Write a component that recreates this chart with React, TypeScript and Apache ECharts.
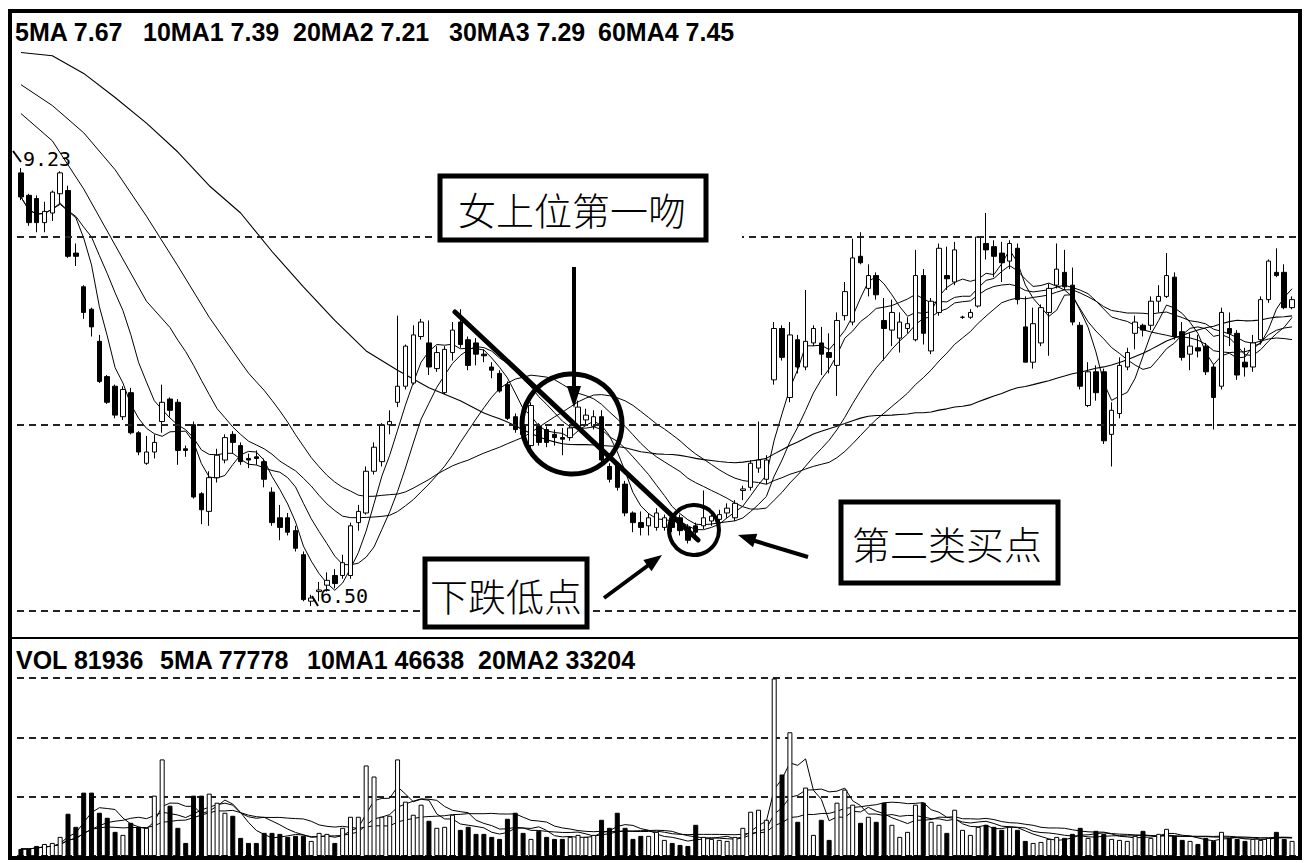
import React, { useEffect, useRef } from "react";
import * as echarts from "echarts";

// [open, close, low, high]
const ohlc: number[][] = [
  [9.20, 9.05, 9.03, 9.23], [9.06, 8.89, 8.87, 9.07], [9.04, 8.89, 8.83, 9.06], [8.89, 8.96, 8.83, 9.02],
  [8.95, 9.08, 8.90, 9.09], [9.07, 9.20, 9.01, 9.21], [9.09, 8.68, 8.67, 9.12], [8.70, 8.68, 8.62, 8.76],
  [8.49, 8.33, 8.29, 8.50], [8.35, 8.24, 8.18, 8.36], [8.15, 7.90, 7.89, 8.19], [7.93, 7.77, 7.76, 7.94],
  [7.87, 7.69, 7.67, 7.88], [7.68, 7.85, 7.66, 7.87], [7.83, 7.58, 7.57, 7.86], [7.58, 7.46, 7.44, 7.59],
  [7.39, 7.46, 7.38, 7.56], [7.46, 7.52, 7.42, 7.57], [7.65, 7.77, 7.58, 7.88], [7.79, 7.72, 7.68, 7.80],
  [7.77, 7.47, 7.38, 7.79], [7.48, 7.47, 7.43, 7.50], [7.63, 7.18, 7.17, 7.65], [7.20, 7.10, 7.01, 7.21],
  [7.09, 7.30, 7.00, 7.34], [7.30, 7.44, 7.27, 7.48], [7.41, 7.55, 7.39, 7.57], [7.57, 7.52, 7.45, 7.59],
  [7.50, 7.40, 7.38, 7.52], [7.42, 7.41, 7.36, 7.45], [7.43, 7.42, 7.38, 7.47], [7.40, 7.29, 7.24, 7.42],
  [7.21, 7.02, 7.00, 7.24], [7.05, 6.99, 6.91, 7.13], [7.05, 6.96, 6.94, 7.08], [6.97, 6.86, 6.84, 7.00],
  [6.82, 6.54, 6.53, 6.84], [6.53, 6.55, 6.50, 6.57], [6.59, 6.60, 6.53, 6.65], [6.63, 6.66, 6.59, 6.71],
  [6.69, 6.64, 6.61, 6.73], [6.69, 6.77, 6.67, 6.82], [6.69, 7.00, 6.67, 7.02], [7.02, 7.09, 6.97, 7.13],
  [7.08, 7.34, 7.07, 7.37], [7.34, 7.49, 7.32, 7.52], [7.40, 7.63, 7.37, 7.64], [7.63, 7.65, 7.57, 7.72],
  [7.77, 7.87, 7.74, 8.31], [7.87, 8.12, 7.85, 8.13], [7.89, 8.19, 7.88, 8.25], [8.18, 8.27, 8.16, 8.29],
  [8.14, 7.99, 7.94, 8.28], [7.98, 8.08, 7.96, 8.12], [7.83, 8.10, 7.82, 8.12], [8.08, 8.22, 8.03, 8.27],
  [8.27, 8.13, 8.11, 8.35], [8.16, 8.00, 7.97, 8.18], [8.14, 8.07, 8.00, 8.17], [8.07, 8.06, 8.02, 8.10],
  [7.99, 7.97, 7.92, 8.02], [7.95, 7.84, 7.83, 7.97], [7.88, 7.67, 7.66, 7.90], [7.68, 7.60, 7.58, 7.70],
  [7.63, 7.57, 7.54, 7.66], [7.50, 7.75, 7.48, 7.77], [7.62, 7.52, 7.50, 7.64], [7.60, 7.52, 7.49, 7.62],
  [7.57, 7.55, 7.50, 7.60], [7.55, 7.54, 7.44, 7.61], [7.55, 7.61, 7.53, 7.63], [7.62, 7.74, 7.60, 7.78],
  [7.66, 7.69, 7.63, 7.73], [7.62, 7.68, 7.60, 7.72], [7.68, 7.41, 7.39, 7.72], [7.37, 7.29, 7.27, 7.39],
  [7.38, 7.24, 7.22, 7.40], [7.26, 7.08, 7.06, 7.28], [7.08, 7.02, 6.96, 7.09], [7.02, 6.99, 6.94, 7.09],
  [7.00, 7.05, 6.94, 7.08], [6.99, 7.08, 6.97, 7.11], [6.99, 7.05, 6.97, 7.07], [7.05, 6.99, 6.96, 7.07],
  [7.05, 6.97, 6.94, 7.07], [6.99, 6.91, 6.89, 7.01], [7.00, 6.96, 6.93, 7.02], [7.00, 7.05, 6.98, 7.22],
  [7.03, 7.06, 7.00, 7.08], [7.04, 7.07, 7.01, 7.10], [7.08, 7.11, 7.05, 7.14], [7.05, 7.14, 7.03, 7.16],
  [7.22, 7.23, 7.16, 7.25], [7.24, 7.39, 7.22, 7.41], [7.36, 7.41, 7.33, 7.65], [7.29, 7.41, 7.26, 7.44],
  [7.91, 8.23, 7.88, 8.27], [8.23, 8.05, 8.03, 8.25], [7.80, 8.19, 7.77, 8.27], [8.16, 7.99, 7.95, 8.19],
  [7.99, 8.15, 7.97, 8.47], [8.14, 8.23, 8.12, 8.25], [8.14, 8.07, 7.94, 8.24], [8.08, 8.05, 7.95, 8.20],
  [8.00, 8.28, 7.81, 8.33], [8.31, 8.46, 8.28, 8.52], [8.27, 8.67, 8.25, 8.79], [8.68, 8.64, 8.63, 8.83],
  [8.48, 8.56, 8.43, 8.63], [8.56, 8.44, 8.41, 8.58], [8.28, 8.23, 8.03, 8.42], [8.22, 8.33, 8.12, 8.41],
  [8.17, 8.27, 8.08, 8.33], [8.23, 8.26, 8.20, 8.30], [8.16, 8.56, 8.15, 8.72], [8.56, 8.20, 8.13, 8.60],
  [8.09, 8.40, 8.07, 8.42], [8.33, 8.73, 8.31, 8.76], [8.56, 8.54, 8.47, 8.74], [8.52, 8.72, 8.50, 8.77],
  [8.30, 8.30, 8.29, 8.31], [8.30, 8.33, 8.29, 8.35], [8.37, 8.80, 8.36, 8.80], [8.76, 8.72, 8.66, 8.95],
  [8.74, 8.68, 8.55, 8.78], [8.70, 8.64, 8.52, 8.77], [8.65, 8.76, 8.60, 8.78], [8.73, 8.41, 8.38, 8.76],
  [8.24, 8.02, 8.02, 8.43], [8.02, 8.26, 7.98, 8.36], [8.14, 8.36, 8.12, 8.38], [8.33, 8.48, 8.06, 8.51],
  [8.50, 8.60, 8.48, 8.76], [8.58, 8.49, 8.47, 8.72], [8.50, 8.27, 8.25, 8.61], [8.25, 7.87, 7.85, 8.27],
  [7.75, 7.96, 7.74, 8.02], [7.96, 7.83, 7.78, 8.00], [7.96, 7.53, 7.51, 7.98], [7.57, 7.72, 7.37, 7.77],
  [7.70, 8.00, 7.67, 8.05], [7.99, 8.08, 7.97, 8.11], [8.20, 8.27, 8.10, 8.31], [8.25, 8.22, 8.18, 8.26],
  [8.25, 8.40, 8.22, 8.43], [8.40, 8.43, 8.33, 8.50], [8.43, 8.56, 8.42, 8.70], [8.55, 8.18, 8.16, 8.58],
  [8.21, 8.05, 8.03, 8.27], [8.07, 8.12, 7.97, 8.20], [8.11, 8.09, 8.05, 8.19], [8.12, 7.96, 7.94, 8.14],
  [7.99, 7.80, 7.60, 8.01], [7.87, 8.33, 7.85, 8.36], [8.23, 8.20, 8.12, 8.33], [8.20, 7.94, 7.91, 8.22],
  [8.02, 7.99, 7.93, 8.11], [7.99, 8.14, 7.96, 8.19], [8.16, 8.41, 8.13, 8.43], [8.41, 8.65, 8.39, 8.66],
  [8.58, 8.56, 8.55, 8.73], [8.58, 8.36, 8.35, 8.63], [8.36, 8.41, 8.35, 8.43],
];

const volumes: number[] = [
  28500, 28500, 40700, 48800, 52900, 77300, 170900, 118000, 256400, 256400,
  175000, 154700, 97700, 85500, 134300, 118000, 114000, 244200, 390700, 203500,
  114000, 52900, 244200, 244200, 252300, 215700, 175000, 162800, 73300, 52900,
  52900, 93600, 93600, 89500, 77300, 81400, 81400, 61100, 93600, 89500,
  52900, 114000, 158700, 158700, 366300, 321500, 158700, 162800, 390700, 219800,
  166900, 207600, 142500, 114000, 118000, 166900, 105800, 118000, 89500, 89500,
  77300, 69200, 150600, 175000, 93600, 69200, 101800, 77300, 69200, 69200,
  77300, 85500, 77300, 85500, 146500, 114000, 175000, 114000, 69200, 81400,
  81400, 97700, 65100, 52900, 44800, 40700, 126200, 77300, 69200, 65100,
  61100, 77300, 114000, 179100, 187200, 146500, 718000, 329700, 500600, 138400,
  276800, 85500, 146500, 65100, 215700, 268600, 207600, 134300, 158700, 138400,
  215700, 126200, 77300, 97700, 207600, 215700, 138400, 126200, 93600, 187200,
  105800, 85500, 118000, 126200, 118000, 105800, 118000, 105800, 61100, 52900,
  57000, 69200, 77300, 73300, 89500, 114000, 73300, 101800, 89500, 69200,
  65100, 61100, 81400, 101800, 73300, 89500, 109900, 81400, 65100, 61100,
  48800, 73300, 61100, 97700, 73300, 69200, 61100, 69200, 65100, 73300,
  97700, 69200, 61100,
];

// long moving averages before enough bars are on screen
const ma20Lead: [number, number][] = [[0, 9.57], [4, 9.40], [8, 9.10], [12, 8.75], [16, 8.40]];
const ma30Lead: [number, number][] = [[0, 9.75], [4, 9.62], [8, 9.45], [12, 9.22], [16, 8.93], [20, 8.62], [24, 8.30], [28, 8.02]];
const ma60Lead: [number, number][] = [[0, 9.95], [4, 9.93], [8, 9.82], [12, 9.67], [16, 9.51], [20, 9.33], [24, 9.12], [28, 8.95], [32, 8.71], [36, 8.49], [40, 8.28], [44, 8.09], [48, 7.97], [52, 7.86], [56, 7.78]];

const priceGridLines = [6.469, 7.635, 8.8, 9.966];
const priceLegend = ["5MA 7.67", "10MA1 7.39", "20MA2 7.21", "30MA3 7.29", "60MA4 7.45"];
const volLegend = ["VOL 81936", "5MA 77778", "10MA1 46638", "20MA2 33204"];
const highLabel = "9.23";
const lowLabel = "6.50";
const notes = ["女上位第一吻", "下跌低点", "第二类买点"];

function movingAvg(src: number[], n: number, lead?: [number, number][]) {
  return src.map((_, i) => {
    if (i >= n - 1) {
      let s = 0;
      for (let k = i - n + 1; k <= i; k++) s += src[k];
      return +(s / n).toFixed(4);
    }
    if (lead) {
      const f = lead.find((p) => p[0] === i);
      return f ? f[1] : null;
    }
    let s = 0;
    for (let k = 0; k <= i; k++) s += src[k];
    return +(s / (i + 1)).toFixed(4);
  });
}

export default function App() {
  const ref = useRef<HTMLDivElement>(null);
  useEffect(() => {
    if (!ref.current) return;
    const chart = echarts.init(ref.current, null, { renderer: "svg" });
    const cats = ohlc.map((_, i) => String(i));
    const closes = ohlc.map((d) => d[1]);
    const maSeries = (name: string, data: any[], x: number, y: number, w = 1) => ({
      name, type: "line", xAxisIndex: x, yAxisIndex: y, data, symbol: "none", connectNulls: true,
      lineStyle: { color: "#000", width: w }, silent: true, z: 3,
    });
    const dash = { type: [7, 5] as any, color: "#222", width: 2 };
    const legendFont = 'bold 25px "Liberation Sans", Arial, sans-serif';
    const cjk = '300 38px "Noto Sans CJK SC", sans-serif';
    const priceX = [15, 143, 293, 449, 598];
    const volX = [16, 160, 307, 478];

    const arrowHead = (tip: number[], dir: number[], len: number, half: number) => {
      const m = Math.hypot(dir[0], dir[1]);
      const ux = dir[0] / m, uy = dir[1] / m;
      const bx = tip[0] - ux * len, by = tip[1] - uy * len;
      return [[tip[0], tip[1]], [bx - uy * half, by + ux * half], [bx + uy * half, by - ux * half]];
    };

    const graphics: any[] = [
      { type: "rect", z: 50, shape: { x: 10, y: 11, width: 1290, height: 847 }, style: { fill: "none", stroke: "#000", lineWidth: 4 } },
      { type: "line", z: 50, shape: { x1: 10, y1: 638, x2: 1300, y2: 638 }, style: { stroke: "#000", lineWidth: 2 } },
      ...priceLegend.map((t, i) => ({ type: "text", z: 50, x: priceX[i], y: 32, style: { text: t, font: legendFont, fill: "#000", textVerticalAlign: "middle" } })),
      ...volLegend.map((t, i) => ({ type: "text", z: 50, x: volX[i], y: 660, style: { text: t, font: legendFont, fill: "#000", textVerticalAlign: "middle" } })),
      { type: "text", z: 50, x: 23, y: 159, style: { text: highLabel, font: '20px "DejaVu Sans Mono", monospace', fill: "#000", textVerticalAlign: "middle" } },
      { type: "line", z: 50, shape: { x1: 13, y1: 151, x2: 21, y2: 162 }, style: { stroke: "#000", lineWidth: 2 } },
      { type: "text", z: 50, x: 320, y: 596, style: { text: lowLabel, font: '20px "DejaVu Sans Mono", monospace', fill: "#000", textVerticalAlign: "middle" } },
      { type: "line", z: 50, shape: { x1: 312, y1: 596, x2: 318, y2: 606 }, style: { stroke: "#000", lineWidth: 2 } },
      // box 1
      { type: "rect", z: 100, shape: { x: 432, y: 168, width: 310, height: 80 }, style: { fill: "#fff" } },
      { type: "rect", z: 101, shape: { x: 440, y: 176, width: 266, height: 64 }, style: { fill: "#fff", stroke: "#000", lineWidth: 5 } },
      { type: "text", z: 102, x: 572, y: 208, style: { text: notes[0], font: cjk, fill: "#000", textAlign: "center", textVerticalAlign: "middle" } },
      // vertical arrow
      { type: "line", z: 100, shape: { x1: 574, y1: 267, x2: 574, y2: 390 }, style: { stroke: "#000", lineWidth: 4 } },
      { type: "polygon", z: 100, shape: { points: arrowHead([574, 408], [0, 1], 22, 7) }, style: { fill: "#000" } },
      // circles and trend line
      { type: "circle", z: 100, shape: { cx: 572, cy: 424, r: 50 }, style: { fill: "none", stroke: "#000", lineWidth: 5 } },
      { type: "line", z: 100, shape: { x1: 455, y1: 312, x2: 698, y2: 540 }, style: { stroke: "#000", lineWidth: 5, lineCap: "round" } },
      { type: "circle", z: 100, shape: { cx: 694, cy: 530, r: 25 }, style: { fill: "none", stroke: "#000", lineWidth: 4 } },
      // box 2 (下跌低点)
      { type: "rect", z: 101, shape: { x: 425, y: 559, width: 162, height: 68 }, style: { fill: "#fff", stroke: "#000", lineWidth: 5 } },
      { type: "text", z: 102, x: 506, y: 594, style: { text: notes[1], font: cjk, fill: "#000", textAlign: "center", textVerticalAlign: "middle" } },
      // box 3 (第二类买点)
      { type: "rect", z: 101, shape: { x: 841, y: 502, width: 217, height: 81 }, style: { fill: "#fff", stroke: "#000", lineWidth: 5 } },
      { type: "text", z: 102, x: 947, y: 542, style: { text: notes[2], font: cjk, fill: "#000", textAlign: "center", textVerticalAlign: "middle" } },
      // diagonal arrows
      { type: "line", z: 100, shape: { x1: 604, y1: 598, x2: 650, y2: 564 }, style: { stroke: "#000", lineWidth: 4 } },
      { type: "polygon", z: 100, shape: { points: arrowHead([662, 555], [58, -42], 18, 7) }, style: { fill: "#000" } },
      { type: "line", z: 100, shape: { x1: 808, y1: 557, x2: 752, y2: 540 }, style: { stroke: "#000", lineWidth: 4 } },
      { type: "polygon", z: 100, shape: { points: arrowHead([738, 535], [-69, -22], 18, 7) }, style: { fill: "#000" } },
    ];

    chart.setOption({
      animation: false,
      backgroundColor: "#fff",
      grid: [
        { left: 17, top: 50, width: 1279, height: 561 },
        { left: 17, top: 678, width: 1279, height: 178 },
      ],
      xAxis: [
        { type: "category", data: cats, gridIndex: 0, show: false, boundaryGap: true },
        { type: "category", data: cats, gridIndex: 1, show: false, boundaryGap: true },
      ],
      yAxis: [
        { type: "value", gridIndex: 0, min: 6.469, max: 9.966, show: false },
        {
          type: "value", gridIndex: 1, min: 0, max: 720000, interval: 240000,
          axisLine: { show: false }, axisTick: { show: false }, axisLabel: { show: false },
          splitLine: { show: true, lineStyle: dash },
        },
      ],
      series: [
        {
          type: "candlestick", xAxisIndex: 0, yAxisIndex: 0, data: ohlc, barWidth: 5, z: 4,
          itemStyle: { color: "#fff", color0: "#000", borderColor: "#000", borderColor0: "#000", borderColorDoji: "#000", borderWidth: 1 },
          markLine: {
            silent: true, symbol: "none", label: { show: false }, animation: false,
            lineStyle: dash, data: priceGridLines.map((v) => ({ yAxis: v })),
          },
        },
        maSeries("MA5", movingAvg(closes, 5), 0, 0),
        maSeries("MA10", movingAvg(closes, 10), 0, 0),
        maSeries("MA20", movingAvg(closes, 20, ma20Lead), 0, 0),
        maSeries("MA30", movingAvg(closes, 30, ma30Lead), 0, 0),
        maSeries("MA60", movingAvg(closes, 60, ma60Lead), 0, 0, 1.1),
        {
          type: "bar", xAxisIndex: 1, yAxisIndex: 1, barWidth: 5, z: 4,
          data: volumes.map((v, i) => {
            const up = ohlc[i][1] >= ohlc[i][0];
            return { value: v, itemStyle: { color: up ? "#fff" : "#000", borderColor: "#000", borderWidth: 1 } };
          }),
        },
        maSeries("VMA5", movingAvg(volumes, 5), 1, 1),
        maSeries("VMA10", movingAvg(volumes, 10), 1, 1),
        maSeries("VMA20", movingAvg(volumes, 20), 1, 1),
      ],
      graphic: graphics,
    });
    return () => chart.dispose();
  }, []);
  return <div ref={ref} style={{ position: "fixed", left: 0, top: 0, width: 1306, height: 863, background: "#fff" }} />;
}
